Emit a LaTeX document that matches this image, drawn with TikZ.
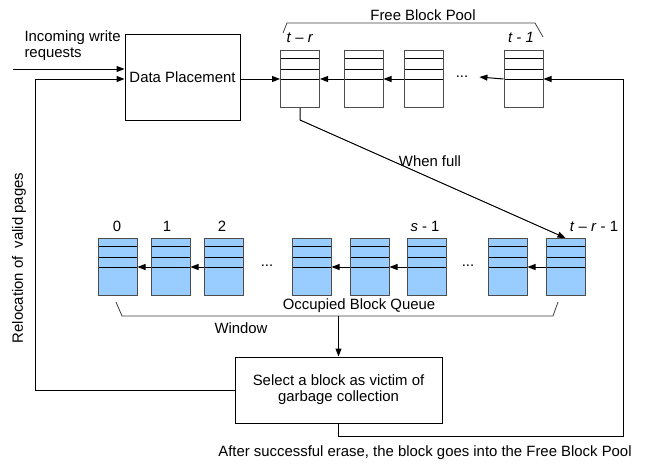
\documentclass[tikz,border=0pt]{standalone}
\usepackage{fontspec}
\setmainfont{Liberation Sans}
\usepackage{tikz}
\usetikzlibrary{arrows.meta}
\definecolor{qblue}{HTML}{99CCFF}
\tikzset{
	blk/.style={draw=black!70, line width=1pt, minimum width=39pt, minimum height=57pt, inner sep=0pt,
		path picture={\foreach \yy in {8,19,29}
			\draw[black, line width=1pt] ([yshift=-\yy pt]path picture bounding box.north west) -- ([yshift=-\yy pt]path picture bounding box.north east);}},
	occ/.style={blk, fill=qblue},
	arr/.style={-{Triangle[length=8pt,width=6pt]}, line width=1pt},
	procbox/.style={draw, line width=1pt, align=center, inner sep=0pt},
}

\begin{document}
\begin{tikzpicture}[x=1pt, y=-1pt, font=\fontsize{14.9}{16}\selectfont]
	\useasboundingbox (0,0) rectangle (647,463);
	% Boxes
	\node[procbox, minimum width=115pt, minimum height=86pt] (dp) at (182.5,77) {Data Placement};
	\node[procbox, minimum width=207pt, minimum height=66pt] (vic) at (338.5,390) {Select a block as victim of\\garbage collection};
	% Free block pool
	\foreach \n/\x in {f1/300,f2/363.5,f3/423.5,f4/523.5} \node[blk] (\n) at (\x,79) {};
	\node[inner xsep=11pt] (fd) at (462,77) {...};
	% Occupied block queue
	\foreach \n/\x in {o1/117.5,o2/170.5,o3/223.5,o4/311.5,o5/369.5,o6/426.5,o7/507.5,o8/565.5}
		\node[occ] (\n) at (\x,267) {};
	\node (od1) at (267,266) {...};
	\node (od2) at (468,266) {...};
	% Labels of the blocks
	\node (lfr) at (300,38) {\textit{t} – \textit{r}};
	\node (lft) at (521,37) {\textit{t - 1}};
	\foreach \n/\x/\t in {l0/117/0,l1/167/1,l2/222/2}
		\node (\n) at (\x,226) {\t};
	\node (ls) at (425,226) {\textit{s} - 1};
	\node (ltr) at (594,226) {\textit{t} – \textit{r} - 1};
	% Arrows inside the two lists
	\foreach \a/\b in {f2/f1,f3/f2,o2/o1,o3/o2,o5/o4,o6/o5,o8/o7}
		\draw[arr] (\a.west) -- (\b.east);
	\draw[arr] (f4.west) -- (fd.east);
	% Brackets
	\draw[line width=0.8pt, black!75] (283,33) -- (287,23) -- (535,23) -- (543,37);
	\node (pool) at (423,15) {Free Block Pool};
	\draw[line width=0.8pt, black!75] (116,302) -- (122,316) -- (553,316) -- (558,302);
	\node (queue) at (359,306) {Occupied Block Queue};
	\node (win) at (241,328) {Window};
	% Incoming requests
	\node[align=left, anchor=west] (inc) at (21,46) {Incoming write\\requests};
	\coordinate (cin) at (13,69);
	\draw[arr] (cin) -- (cin -| dp.west);
	\draw[arr] (dp.east |- f1.west) -- (f1.west);
	% When full
	\coordinate (cwf) at (300,120);
	\draw[arr] (f1.south) -- (cwf) -- (o8.north);
	\node (wfull) at (430,161) {When full};
	% Window to victim selection
	\coordinate (cwin) at (338.5,316);
	\draw[arr] (cwin) -- (vic.north);
	% Relocation of valid pages
	\coordinate (crl) at (35,79);
	\draw[arr] (vic.west) -| (crl) -- (crl -| dp.west);
	\node[rotate=90] (reloc) at (19,258) {Relocation of\ \ valid pages};
	% Back into the pool
	\coordinate (cret) at (623,436);
	\draw[arr] (vic.south) |- (cret) |- (f4.east);
	\node (erase) at (425,453) {After successful erase, the block goes into the Free Block Pool};
\end{tikzpicture}
\end{document}
